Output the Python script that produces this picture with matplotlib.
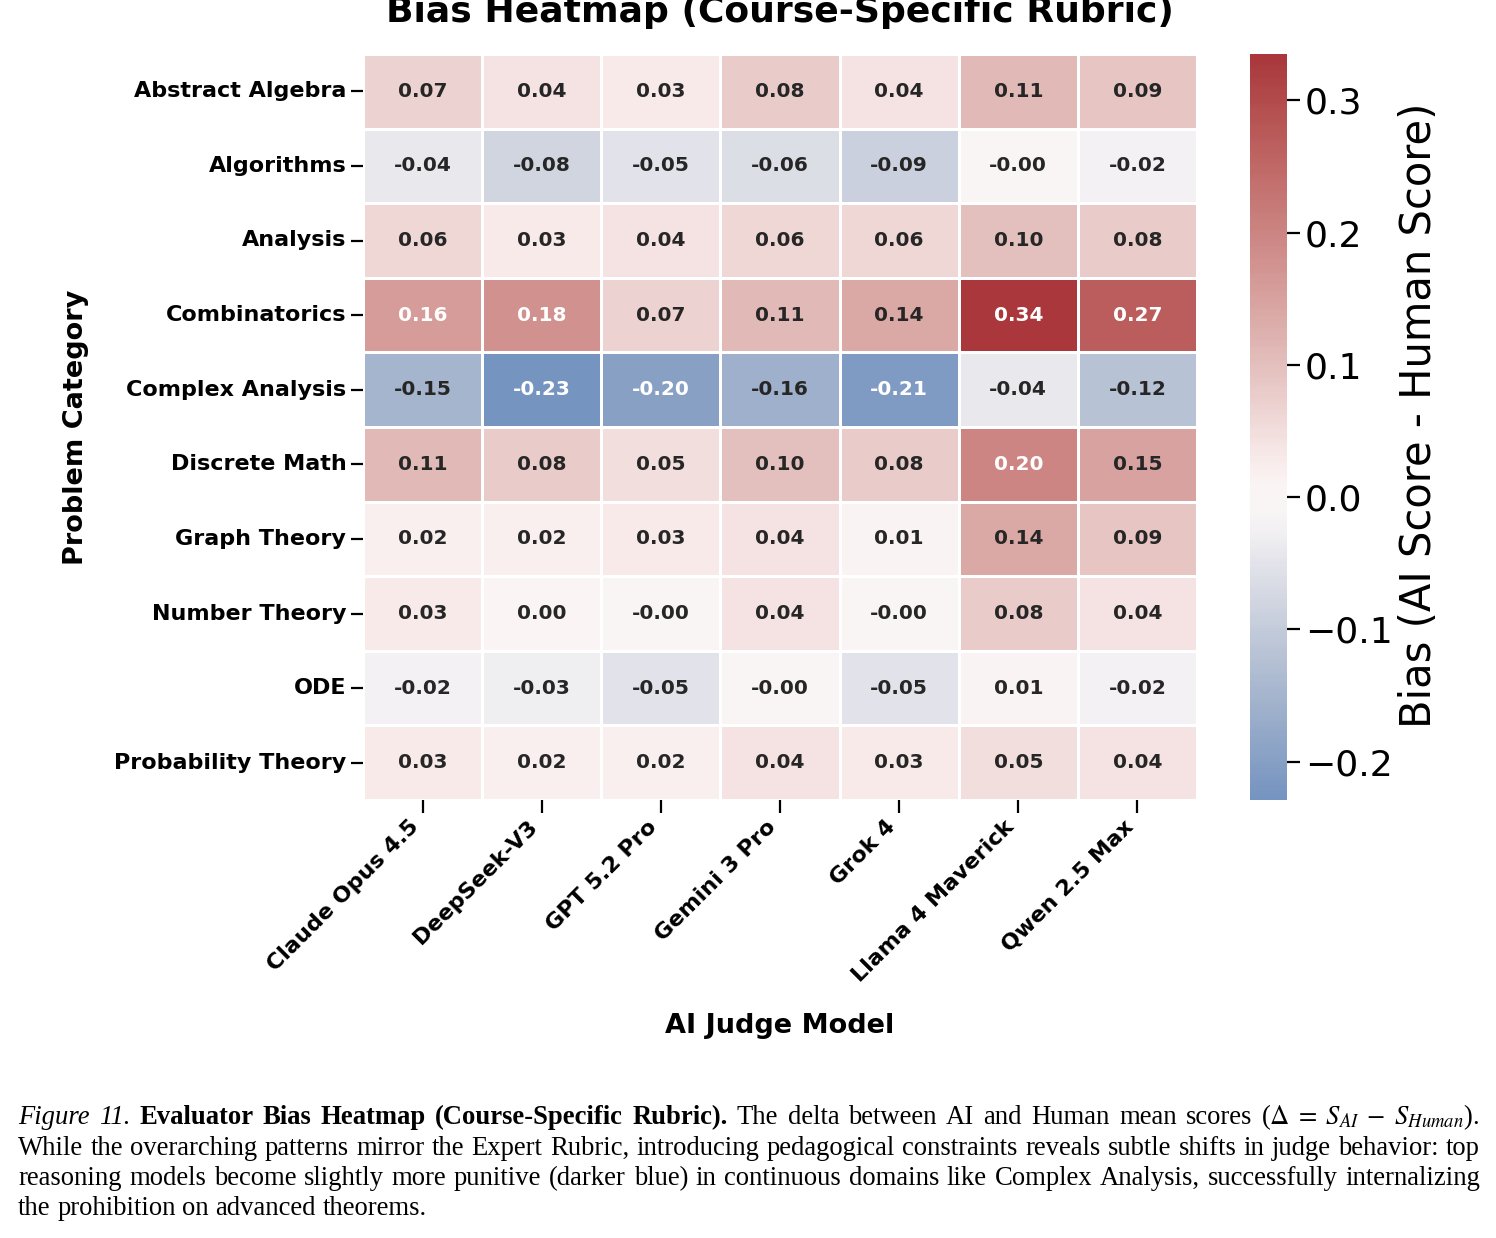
import numpy as np
import matplotlib
matplotlib.use('Agg')
import matplotlib.pyplot as plt
import seaborn as sns

#------------------------------------------------------------------------------
# Data
#------------------------------------------------------------------------------

categories = ['Abstract Algebra', 'Algorithms', 'Analysis', 'Combinatorics',
              'Complex Analysis', 'Discrete Math', 'Graph Theory',
              'Number Theory', 'ODE', 'Probability Theory']
models = ['Claude Opus 4.5', 'DeepSeek-V3', 'GPT 5.2 Pro', 'Gemini 3 Pro',
          'Grok 4', 'Llama 4 Maverick', 'Qwen 2.5 Max']

abstract_algebra = [0.07, 0.04, 0.03, 0.08, 0.04, 0.11, 0.09]
algorithms = [-0.04, -0.08, -0.05, -0.06, -0.09, -0.004, -0.02]
analysis = [0.06, 0.03, 0.04, 0.06, 0.06, 0.10, 0.08]
combinatorics = [0.16, 0.18, 0.07, 0.11, 0.14, 0.335, 0.27]
complex_analysis = [-0.15, -0.229, -0.20, -0.16, -0.21, -0.04, -0.12]
discrete_math = [0.11, 0.08, 0.05, 0.10, 0.08, 0.20, 0.15]
graph_theory = [0.02, 0.02, 0.03, 0.04, 0.01, 0.14, 0.09]
number_theory = [0.03, 0.003, -0.003, 0.04, -0.003, 0.08, 0.04]
ode = [-0.02, -0.03, -0.05, -0.004, -0.05, 0.01, -0.02]
probability_theory = [0.03, 0.02, 0.02, 0.04, 0.03, 0.05, 0.04]

bias = np.array([abstract_algebra, algorithms, analysis, combinatorics,
                 complex_analysis, discrete_math, graph_theory, number_theory,
                 ode, probability_theory])

W, H = 1496, 1238

#------------------------------------------------------------------------------
# Heatmap
#------------------------------------------------------------------------------

fig = plt.figure(figsize=(W/100, H/100), dpi=100)
ax = fig.add_axes([363/W, 1-800/H, 834/W, 746/H])
cax = fig.add_axes([1250/W, 1-800/H, 37/W, 746/H])

sns.heatmap(bias, annot=True, fmt='.2f', cmap='vlag', center=0,
            linewidths=1, linecolor='white', ax=ax, cbar_ax=cax,
            xticklabels=models, yticklabels=categories,
            annot_kws={'size': 14.5, 'weight': 'bold'})

ax.tick_params(axis='both', length=9, width=1.6, labelsize=16, pad=3)
for lab in ax.get_xticklabels():
    lab.set_rotation(45)
    lab.set_ha('right')
    lab.set_rotation_mode('default')
    lab.set_fontweight('bold')
for lab in ax.get_yticklabels():
    lab.set_rotation(0)
    lab.set_fontweight('bold')

ax.set_xlabel('AI Judge Model', fontsize=19.5, fontweight='bold')
ax.xaxis.set_label_coords(0.5, (800-1013)/746)
ax.set_ylabel('Problem Category', fontsize=19.5, fontweight='bold')
ax.yaxis.set_label_coords((89-363)/834, 0.5)

cax.tick_params(labelsize=26, length=9, width=1.6, pad=4)
cax.set_ylabel('Bias (AI Score - Human Score)', fontsize=30)
cax.yaxis.set_label_coords((1398-1250)/37, 0.516)

fig.text(780/W, 1-22/H, 'Bias Heatmap (Course-Specific Rubric)',
         ha='center', va='baseline', fontsize=26, fontweight='bold')

#------------------------------------------------------------------------------
# Caption
#------------------------------------------------------------------------------

plt.rcParams['mathtext.fontset'] = 'stix'
serif = 'Liberation Serif'
cap_size = 19.2
x_left, x_right = 18, 1480

def words(text, **props):
    return [(w, props) for w in text.split(' ') if w]

line1 = (words('Figure 11.', style='italic') +
         words('Evaluator Bias Heatmap (Course-Specific Rubric).', weight='bold') +
         words('The delta between AI and Human mean scores') +
         [(r'($\Delta\;=\;S_{AI}\;-\;S_{Human}$).', {})])
line2 = words('While the overarching patterns mirror the Expert Rubric, introducing '
              'pedagogical constraints reveals subtle shifts in judge behavior: top')
line3 = words('reasoning models become slightly more punitive (darker blue) in '
              'continuous domains like Complex Analysis, successfully internalizing')
line4 = words('the prohibition on advanced theorems.')

renderer = fig.canvas.get_renderer()
t_two = fig.text(0, 0, 'a a', family=serif, size=cap_size, alpha=0)
t_one = fig.text(0, 0, 'a', family=serif, size=cap_size, alpha=0)
space_w = (t_two.get_window_extent(renderer).width
           - 2*t_one.get_window_extent(renderer).width)
t_two.remove()
t_one.remove()

def draw_line(pieces, baseline, justify=True):
    texts = [fig.text(0, 1-baseline/H, w, family=serif, size=cap_size,
                      va='baseline', ha='left', **p) for w, p in pieces]
    widths = [t.get_window_extent(renderer).width for t in texts]
    if justify:
        gap = (x_right - x_left - sum(widths)) / (len(texts) - 1)
    else:
        gap = space_w
    x = x_left
    for t, w in zip(texts, widths):
        t.set_x(x/W)
        x += w + gap

draw_line(line1, 1124)
draw_line(line2, 1155)
draw_line(line3, 1185)
draw_line(line4, 1215, justify=False)

fig.savefig('out.png', dpi=100)
